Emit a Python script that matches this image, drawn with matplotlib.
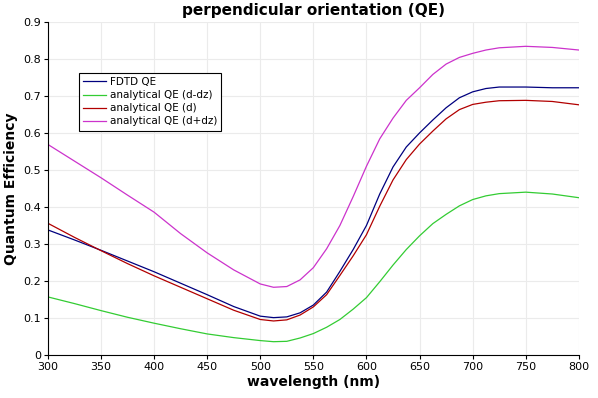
import matplotlib
matplotlib.use("Agg")
import matplotlib.pyplot as plt
from matplotlib.ticker import FuncFormatter

wavelength = [300, 325, 350, 375, 400, 425, 450, 475, 500, 512.5, 525, 537.5, 550,
              562.5, 575, 587.5, 600, 612.5, 625, 637.5, 650, 662.5, 675, 687.5,
              700, 712.5, 725, 750, 775, 800]

fdtd_qe = [0.338, 0.311, 0.283, 0.254, 0.225, 0.194, 0.163, 0.131, 0.105, 0.101,
           0.103, 0.114, 0.135, 0.170, 0.226, 0.285, 0.350, 0.435, 0.508, 0.562,
           0.600, 0.635, 0.668, 0.695, 0.711, 0.720, 0.724, 0.724, 0.722, 0.722]

qe_minus = [0.157, 0.139, 0.120, 0.102, 0.086, 0.071, 0.057, 0.047, 0.039, 0.036,
            0.037, 0.046, 0.058, 0.075, 0.096, 0.124, 0.155, 0.198, 0.243, 0.285,
            0.322, 0.355, 0.380, 0.403, 0.420, 0.430, 0.436, 0.440, 0.435, 0.425]

qe_d = [0.356, 0.318, 0.282, 0.247, 0.214, 0.183, 0.152, 0.121, 0.096, 0.092,
        0.095, 0.108, 0.130, 0.163, 0.215, 0.268, 0.325, 0.402, 0.473, 0.528,
        0.570, 0.605, 0.638, 0.663, 0.677, 0.683, 0.687, 0.688, 0.685, 0.676]

qe_plus = [0.569, 0.524, 0.479, 0.432, 0.386, 0.328, 0.276, 0.230, 0.192, 0.183,
           0.185, 0.203, 0.236, 0.287, 0.350, 0.428, 0.510, 0.584, 0.640, 0.688,
           0.722, 0.758, 0.786, 0.804, 0.815, 0.824, 0.830, 0.834, 0.831, 0.824]

labels = ["FDTD QE", "analytical QE (d-dz)", "analytical QE (d)", "analytical QE (d+dz)"]
colors = ["#00007f", "#33cc33", "#b20000", "#cc33cc"]

fig = plt.figure(figsize=(5.98, 3.98), dpi=100)
ax = fig.add_axes([0.080, 0.108, 0.888, 0.837])

for y, lab, c in zip([fdtd_qe, qe_minus, qe_d, qe_plus], labels, colors):
    ax.plot(wavelength, y, color=c, linewidth=0.9, label=lab)

ax.set_xlim(300, 800)
ax.set_ylim(0, 0.9)
ax.set_xticks(range(300, 801, 50))
ax.set_yticks([i / 10 for i in range(10)])
ax.yaxis.set_major_formatter(FuncFormatter(lambda v, p: "0" if v == 0 else f"{v:.1f}"))
ax.tick_params(labelsize=8, length=3, width=0.8, pad=2)
ax.grid(True, color="#ebebeb", linewidth=0.8)
ax.set_axisbelow(True)
for s in ["top", "right"]:
    ax.spines[s].set_visible(False)

ax.set_title("perpendicular orientation (QE)", fontsize=11, fontweight="bold", pad=5)
ax.set_xlabel("wavelength (nm)", fontsize=10, fontweight="bold", labelpad=2)
ax.set_ylabel("Quantum Efficiency", fontsize=10, fontweight="bold", labelpad=4)

leg = ax.legend(loc="upper left", bbox_to_anchor=(0.058, 0.847), borderaxespad=0,
                fontsize=7.5, fancybox=False, framealpha=1, edgecolor="black",
                handlelength=2.2, handletextpad=0.4, labelspacing=0.3, borderpad=0.4)
leg.get_frame().set_linewidth(0.8)

fig.savefig("out.png", dpi=100)
